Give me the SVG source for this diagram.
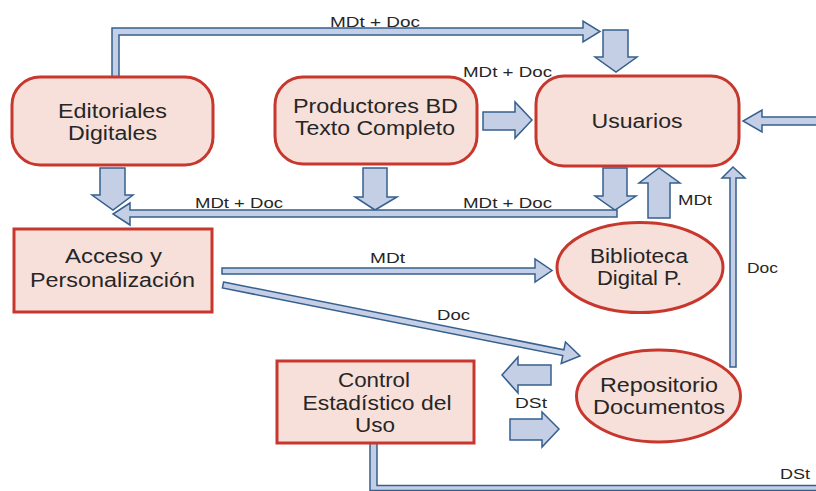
<svg xmlns="http://www.w3.org/2000/svg" width="816" height="491" viewBox="0 0 816 491">
<style>
.node{fill:#f8e0da;stroke:#c8372d;stroke-width:3}
.arr{fill:#c4cee4;stroke:#35608f;stroke-width:1.5;stroke-linejoin:miter}
.t{font-family:"Liberation Sans",Arial,sans-serif;font-size:19.5px;fill:#262626;text-anchor:middle}
.l{font-family:"Liberation Sans",Arial,sans-serif;font-size:15px;fill:#262626;text-anchor:middle}
</style>
<rect width="816" height="491" fill="#ffffff"/>
<g id="connectors">
  <path class="arr" d="M112,77 V28 H583 V21 L600,31.5 L583,42 V35 H119 V77 Z"/>
  <path class="arr" d="M603,30 H628 V57 H637 L616,72 L595,57 H603 Z"/>
  <path class="arr" d="M483,112 H515 V102 L532,120 L515,138 V130 H483 Z"/>
  <path class="arr" d="M830,117 H762 V110 L743,121 L762,132 V125 H830 Z"/>
  <path class="arr" d="M100,168 H125 V195 H133 L113,210 L92,195 H100 Z"/>
  <path class="arr" d="M363,168 H387 V197 H397 L375,210 L355,197 H363 Z"/>
  <path class="arr" d="M603,168 H627 V196 H636 L615,210 L595,196 H603 Z"/>
  <path class="arr" d="M648,218 H670 V183 H680 L659,168 L639,183 H648 Z"/>
  <path class="arr" d="M617,210 H130 V203 L113,214 L130,225 V217 H617 Z"/>
  <path class="arr" d="M222,268 H535 V259 L552,270.5 L535,282 V274 H222 Z"/>
  <path class="arr" transform="translate(223,285) rotate(11.25)" d="M0,-3 H347 V-11 L364,0 L347,11 V3 H0 Z"/>
  <path class="arr" d="M730,367 V178 H722 L733,167 L745,178 H736 V367 Z"/>
  <path class="arr" d="M551,365 H518 V357 L502,375 L518,393 V385 H551 Z"/>
  <path class="arr" d="M510,419 H542 V412 L559,429 L542,447 V440 H510 Z"/>
  <path class="arr" d="M370,443 V490.5 H830 V485.5 H377 V443 Z"/>
  <text class="l" x="375" y="26.5" textLength="90" lengthAdjust="spacingAndGlyphs">MDt + Doc</text>
  <text class="l" x="507.5" y="77" textLength="89" lengthAdjust="spacingAndGlyphs">MDt + Doc</text>
  <text class="l" x="239" y="208" textLength="88" lengthAdjust="spacingAndGlyphs">MDt + Doc</text>
  <text class="l" x="507.5" y="208" textLength="89" lengthAdjust="spacingAndGlyphs">MDt + Doc</text>
  <text class="l" x="387.5" y="263" textLength="35" lengthAdjust="spacingAndGlyphs">MDt</text>
  <text class="l" x="695" y="205" textLength="34" lengthAdjust="spacingAndGlyphs">MDt</text>
  <text class="l" x="453.5" y="320" textLength="33" lengthAdjust="spacingAndGlyphs">Doc</text>
  <text class="l" x="762.5" y="273" textLength="31" lengthAdjust="spacingAndGlyphs">Doc</text>
  <text class="l" x="531" y="408" textLength="32" lengthAdjust="spacingAndGlyphs">DSt</text>
  <text class="l" x="795" y="479" textLength="30" lengthAdjust="spacingAndGlyphs">DSt</text>
</g>
<g id="editoriales">
  <rect class="node" x="12" y="77" width="201" height="88" rx="28"/>
  <text class="t" x="112.5" y="118" textLength="109" lengthAdjust="spacingAndGlyphs">Editoriales</text>
  <text class="t" x="112.5" y="140" textLength="89" lengthAdjust="spacingAndGlyphs">Digitales</text>
</g>
<g id="productores">
  <rect class="node" x="275" y="77" width="202" height="87" rx="28"/>
  <text class="t" x="375.5" y="113" textLength="165" lengthAdjust="spacingAndGlyphs">Productores BD</text>
  <text class="t" x="375" y="135" textLength="160" lengthAdjust="spacingAndGlyphs">Texto Completo</text>
</g>
<g id="usuarios">
  <rect class="node" x="536" y="76" width="203" height="90" rx="28"/>
  <text class="t" x="637" y="128" textLength="91" lengthAdjust="spacingAndGlyphs">Usuarios</text>
</g>
<g id="acceso">
  <rect class="node" x="14" y="229" width="198" height="83"/>
  <text class="t" x="113.5" y="263" textLength="97" lengthAdjust="spacingAndGlyphs">Acceso y</text>
  <text class="t" x="112.5" y="287" textLength="165" lengthAdjust="spacingAndGlyphs">Personalización</text>
</g>
<g id="biblioteca">
  <ellipse class="node" cx="640" cy="267.5" rx="83" ry="45"/>
  <text class="t" x="639" y="263" textLength="98" lengthAdjust="spacingAndGlyphs">Biblioteca</text>
  <text class="t" x="639.5" y="285" textLength="85" lengthAdjust="spacingAndGlyphs">Digital P.</text>
</g>
<g id="repositorio">
  <ellipse class="node" cx="658.5" cy="396" rx="82" ry="46"/>
  <text class="t" x="659" y="392" textLength="118" lengthAdjust="spacingAndGlyphs">Repositorio</text>
  <text class="t" x="659" y="414" textLength="132" lengthAdjust="spacingAndGlyphs">Documentos</text>
</g>
<g id="control">
  <rect class="node" x="277" y="361" width="197" height="82"/>
  <text class="t" x="374" y="387" textLength="72" lengthAdjust="spacingAndGlyphs">Control</text>
  <text class="t" x="377" y="410" textLength="149" lengthAdjust="spacingAndGlyphs">Estadístico del</text>
  <text class="t" x="375" y="432" textLength="40" lengthAdjust="spacingAndGlyphs">Uso</text>
</g>
</svg>
